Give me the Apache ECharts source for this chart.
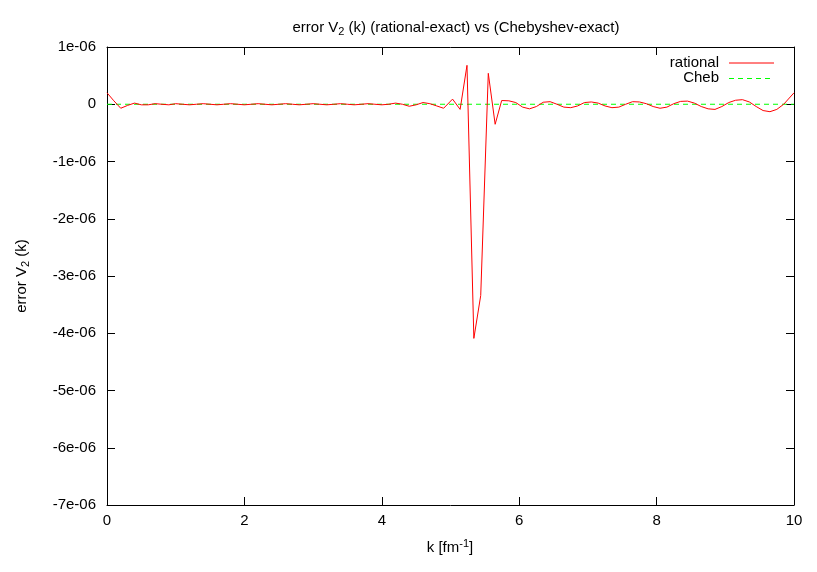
<!DOCTYPE html>
<html><head><meta charset="utf-8">
<script src="https://cdn.jsdelivr.net/npm/echarts@6/dist/echarts.min.js"></script>
<style>html,body{margin:0;padding:0;background:#fff}#c{width:817px;height:572px}</style>
</head><body><div id="c"></div>
<script>
// k values [fm^-1]
const kValues = [0,0.1,0.2,0.3,0.4,0.5,0.6,0.7,0.8,0.9,1.0,1.1,1.2,1.3,1.4,1.5,1.6,1.7,1.8,1.9,
  2.0,2.1,2.2,2.3,2.4,2.5,2.6,2.7,2.8,2.9,3.0,3.1,3.2,3.3,3.4,3.5,3.6,3.7,3.8,3.9,
  4.0,4.1,4.2,4.3,4.4,4.5,4.6,4.7,4.8,4.9,5.03,5.14,5.24,5.34,5.44,5.55,5.65,5.745,5.85,5.95,
  6.05,6.15,6.25,6.35,6.45,6.55,6.65,6.75,6.85,6.95,7.05,7.15,7.25,7.35,7.45,7.55,7.65,7.75,7.85,7.95,
  8.05,8.15,8.25,8.35,8.45,8.55,8.65,8.75,8.85,8.95,9.05,9.15,9.25,9.35,9.45,9.55,9.65,9.75,9.85,10.0];
// rational - exact, in units of 1e-6
const rationalErr = [0.20,0.06,-0.07,-0.02,0.02,-0.01,-0.01,0.01,0.0,-0.01,0.01,0.0,-0.01,0.0,0.01,0.0,-0.01,0.0,0.01,0.0,
  -0.01,0.0,0.01,0.0,-0.01,0.0,0.01,0.0,-0.01,0.0,0.01,0.0,-0.01,0.0,0.01,0.0,-0.01,0.0,0.01,0.0,
  -0.01,0.0,0.02,0.0,-0.035,-0.01,0.03,0.01,-0.03,-0.07,0.09,-0.09,0.68,-4.09,-3.34,0.54,-0.35,0.065,0.06,0.03,
  -0.05,-0.08,-0.04,0.035,0.045,0.0,-0.05,-0.06,-0.03,0.03,0.04,0.02,-0.03,-0.06,-0.05,0.0,0.045,0.04,0.01,-0.04,
  -0.07,-0.05,0.01,0.05,0.055,0.02,-0.04,-0.08,-0.09,-0.04,0.03,0.07,0.08,0.04,-0.04,-0.11,-0.13,-0.09,0.0,0.2];
// Chebyshev - exact, in units of 1e-6
const chebK = [0, 10];
const chebErr = [0, 0];
const seriesNames = ['rational', 'Cheb'];

const FONT = 'Liberation Sans, Arial, sans-serif';
const FS = 15;
const RED = '#ff0000', GREEN = '#00ff00';
const yFmt = v => (Math.abs(v) < 1e-9 ? '0' : (Math.round(v) + 'e-06'));
const chart = echarts.init(document.getElementById('c'), null, {renderer:'canvas'});
const axisCommon = {
  axisLine:{show:true, onZero:false, lineStyle:{color:'#000', width:1}},
  axisTick:{show:true, inside:true, length:8, lineStyle:{color:'#000'}},
  splitLine:{show:false}
};
const txt = {fontFamily:FONT, fontSize:FS, fontWeight:'normal', color:'#000'};
const sub = {fontFamily:FONT, fontSize:11, fontWeight:'normal', color:'#000'};
chart.setOption({
  animation:false,
  title:{
    text:'{a|error V}{s|2}{a| (k) (rational-exact) vs (Chebyshev-exact)}',
    left:451, top:13, textAlign:'center',
    textStyle:{fontWeight:'normal', rich:{
      a:txt,
      s:Object.assign({padding:[8,0,0,0]}, sub)
    }}
  },
  grid:{left:107, right:23, top:47, bottom:67},
  xAxis:[
    Object.assign({type:'value', min:0, max:10, interval:2, position:'bottom',
      axisLabel:{fontFamily:FONT, fontSize:FS, color:'#000', margin:8}}, axisCommon),
    Object.assign({type:'value', min:0, max:10, interval:2, position:'top',
      axisLabel:{show:false}}, axisCommon)
  ],
  yAxis:[
    Object.assign({type:'value', min:-7, max:1, interval:1, position:'left',
      axisLabel:{fontFamily:FONT, fontSize:FS, color:'#000', margin:11, formatter:yFmt}}, axisCommon),
    Object.assign({type:'value', min:-7, max:1, interval:1, position:'right',
      axisLabel:{show:false}}, axisCommon)
  ],
  series:[
    {name:seriesNames[0], type:'line', xAxisIndex:0, yAxisIndex:0, symbol:'none',
     lineStyle:{color:RED, width:1}, itemStyle:{color:RED},
     data:kValues.map((k,i)=>[k, rationalErr[i]]), z:3},
    {name:seriesNames[1], type:'line', xAxisIndex:0, yAxisIndex:0, symbol:'none',
     lineStyle:{color:GREEN, width:1, type:[5,4]}, itemStyle:{color:GREEN},
     data:chebK.map((k,i)=>[k, chebErr[i]]), z:2}
  ],
  graphic:[
    // legend
    {type:'text', x:719, y:63, style:{text:seriesNames[0], align:'right', verticalAlign:'middle',
      font:FS+'px '+FONT, fill:'#000'}},
    {type:'line', shape:{x1:729, y1:63, x2:774, y2:63}, style:{stroke:RED, lineWidth:1}},
    {type:'text', x:719, y:78, style:{text:seriesNames[1], align:'right', verticalAlign:'middle',
      font:FS+'px '+FONT, fill:'#000'}},
    {type:'line', shape:{x1:729, y1:78.5, x2:774, y2:78.5}, style:{stroke:GREEN, lineWidth:1, lineDash:[5,4]}},
    // x axis title
    {type:'text', x:450, y:548,
     style:{text:'{a|k [fm}{s|-1}{a|]}', align:'center', verticalAlign:'middle', rich:{
       a:{fontFamily:FONT, fontSize:FS, fill:'#000'},
       s:{fontFamily:FONT, fontSize:11, fill:'#000', padding:[0,0,8,0]}}}},
    // y axis title
    {type:'text', x:22, y:276, rotation:Math.PI/2,
     style:{text:'{a|error V}{s|2}{a| (k)}', align:'center', verticalAlign:'middle', rich:{
       a:{fontFamily:FONT, fontSize:FS, fill:'#000'},
       s:{fontFamily:FONT, fontSize:11, fill:'#000', padding:[8,0,0,0]}}}}
  ]
});
</script></body></html>
